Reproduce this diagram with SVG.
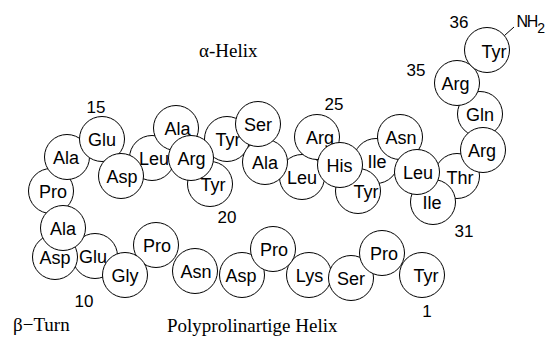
<svg xmlns="http://www.w3.org/2000/svg" width="552" height="341" viewBox="0 0 552 341">
<style>
  circle { fill: #fff; stroke: #000; stroke-width: 1; }
  .r { font-family: "Liberation Sans", Arial, sans-serif; font-size: 18px; text-anchor: middle; fill: #000; }
  .n { font-family: "Liberation Sans", Arial, sans-serif; font-size: 17px; text-anchor: middle; fill: #000; }
  .s { font-family: "Liberation Serif", "Times New Roman", serif; font-size: 19px; fill: #000; }
  .c { stroke: #000; stroke-width: 1; fill: none; }
</style>
<rect width="552" height="341" fill="#fff"/>
<g id="Pro13"><circle cx="51" cy="191" r="22.5"/><text class="r" x="53" y="197.5">Pro</text></g>
<g id="Ala14"><circle cx="67" cy="157" r="22.5"/><text class="r" x="66" y="163.5">Ala</text></g>
<g id="Glu15"><circle cx="102" cy="139" r="22.5"/><text class="r" x="102" y="145.5">Glu</text></g>
<g id="Glu10"><circle cx="95" cy="256" r="22.5"/><text class="r" x="93" y="262.5">Glu</text></g>
<g id="Asp11"><circle cx="55" cy="257" r="22.5"/><text class="r" x="55" y="263.5">Asp</text></g>
<g id="Ala12"><circle cx="63" cy="228" r="22.5"/><text class="r" x="63" y="234.5">Ala</text></g>
<g id="Pro8"><circle cx="156" cy="245" r="22.5"/><text class="r" x="157" y="251.5">Pro</text></g>
<g id="Gly9"><circle cx="125" cy="275" r="22.5"/><text class="r" x="125" y="281.5">Gly</text></g>
<g id="Asn7"><circle cx="195" cy="271" r="22.5"/><text class="r" x="196" y="277.5">Asn</text></g>
<g id="Asp6"><circle cx="242" cy="275" r="22.5"/><text class="r" x="241" y="281.5">Asp</text></g>
<g id="Lys4"><circle cx="309" cy="275" r="22.5"/><text class="r" x="309.5" y="281.5">Lys</text></g>
<g id="Pro5"><circle cx="273" cy="249" r="22.5"/><text class="r" x="274" y="255.5">Pro</text></g>
<g id="Ser3"><circle cx="351" cy="278" r="22.5"/><text class="r" x="351" y="284.5">Ser</text></g>
<g id="Pro2"><circle cx="382" cy="253" r="22.5"/><text class="r" x="384" y="259.5">Pro</text></g>
<g id="Tyr1"><circle cx="422" cy="275" r="22.5"/><text class="r" x="426" y="281.5">Tyr</text></g>
<g id="Tyr20"><circle cx="210" cy="184" r="22.5"/><text class="r" x="213" y="190.5">Tyr</text></g>
<g id="Leu17"><circle cx="152" cy="158" r="22.5"/><text class="r" x="154" y="164.5">Leu</text></g>
<g id="Ala18"><circle cx="176" cy="128" r="22.5"/><text class="r" x="177.5" y="134.5">Ala</text></g>
<g id="Asp16"><circle cx="121" cy="176" r="22.5"/><text class="r" x="122" y="182.5">Asp</text></g>
<g id="Tyr21"><circle cx="227" cy="139" r="22.5"/><text class="r" x="228" y="145.5">Tyr</text></g>
<g id="Arg19"><circle cx="191" cy="158" r="22.5"/><text class="r" x="191.5" y="164.5">Arg</text></g>
<g id="Leu24"><circle cx="302" cy="177" r="22.5"/><text class="r" x="302" y="183.5">Leu</text></g>
<g id="Ala23"><circle cx="265" cy="162" r="22.5"/><text class="r" x="265" y="168.5">Ala</text></g>
<g id="Ser22"><circle cx="258" cy="124" r="22.5"/><text class="r" x="258" y="130.5">Ser</text></g>
<g id="Arg25"><circle cx="317" cy="137" r="22.5"/><text class="r" x="320" y="143.5">Arg</text></g>
<g id="Ile28"><circle cx="376" cy="161" r="22.5"/><text class="r" x="377" y="167.5">Ile</text></g>
<g id="Tyr27"><circle cx="358" cy="191" r="22.5"/><text class="r" x="366" y="197.5">Tyr</text></g>
<g id="His26"><circle cx="340" cy="165" r="22.5"/><text class="r" x="339.5" y="171.5">His</text></g>
<g id="Asn29"><circle cx="400" cy="137" r="22.5"/><text class="r" x="401" y="143.5">Asn</text></g>
<g id="Thr32"><circle cx="457" cy="176" r="22.5"/><text class="r" x="460" y="184">Thr</text></g>
<g id="Ile31"><circle cx="433" cy="202" r="22.5"/><text class="r" x="432" y="208.5">Ile</text></g>
<g id="Leu30"><circle cx="417" cy="172" r="22.5"/><text class="r" x="418" y="178.5">Leu</text></g>
<g id="Gln34"><circle cx="480" cy="114" r="22.5"/><text class="r" x="480" y="120.5">Gln</text></g>
<g id="Arg33"><circle cx="483" cy="150" r="22.5"/><text class="r" x="482" y="156.5">Arg</text></g>
<g id="Arg35"><circle cx="457" cy="83" r="22.5"/><text class="r" x="455.5" y="90">Arg</text></g>
<g id="Tyr36"><circle cx="487" cy="50" r="22.5"/><text class="r" x="494" y="58">Tyr</text></g>
<g id="connectors"><line class="c" x1="504.5" y1="35.5" x2="514" y2="27"/></g>
<g id="NH2"><text class="r" style="text-anchor:start;font-size:16px;letter-spacing:-1.2px" x="516.5" y="27">NH<tspan style="font-size:14px;letter-spacing:0" dy="6">2</tspan></text></g>
<g id="numbers">
<text class="n" x="427" y="317">1</text>
<text class="n" x="84" y="307">10</text>
<text class="n" x="96" y="113">15</text>
<text class="n" x="227" y="223">20</text>
<text class="n" x="334" y="110">25</text>
<text class="n" x="464" y="237">31</text>
<text class="n" x="416" y="76">35</text>
<text class="n" x="459" y="28">36</text>
</g>
<g id="labels">
<text class="s" x="199" y="57">α-Helix</text>
<text class="s" x="13" y="331">β−Turn</text>
<text class="s" x="167" y="332">Polyprolinartige Helix</text>
</g>
</svg>
